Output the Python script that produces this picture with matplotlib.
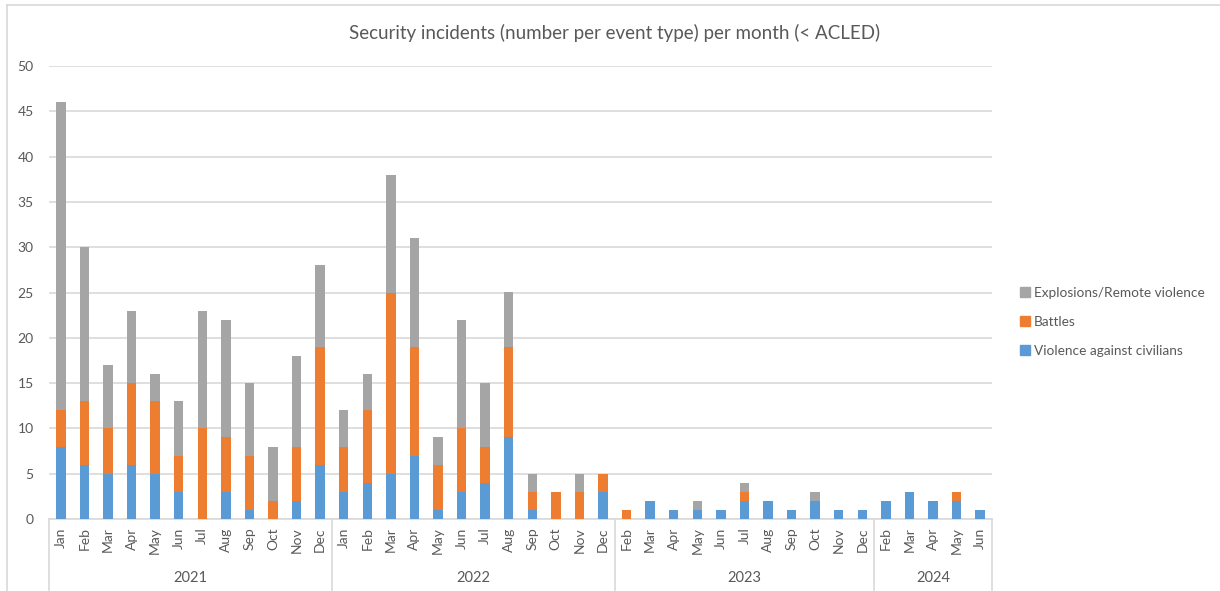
import matplotlib.pyplot as plt
from matplotlib.patches import Patch
import matplotlib.transforms as mtransforms

plt.rcParams['font.family'] = ['Lato', 'DejaVu Sans']

months = ["Jan", "Feb", "Mar", "Apr", "May", "Jun", "Jul", "Aug", "Sep", "Oct", "Nov", "Dec",
          "Jan", "Feb", "Mar", "Apr", "May", "Jun", "Jul", "Aug", "Sep", "Oct", "Nov", "Dec",
          "Feb", "Mar", "Apr", "May", "Jun", "Jul", "Aug", "Sep", "Oct", "Nov", "Dec",
          "Feb", "Mar", "Apr", "May", "Jun"]
years = ["2021", "2022", "2023", "2024"]
months_per_year = [12, 12, 11, 5]

civilians = [8, 6, 5, 6, 5, 3, 0, 3, 1, 0, 2, 6,
             3, 4, 5, 7, 1, 3, 4, 9, 1, 0, 0, 3,
             0, 2, 1, 1, 1, 2, 2, 1, 2, 1, 1,
             2, 3, 2, 2, 1]
battles = [4, 7, 5, 9, 8, 4, 10, 6, 6, 2, 6, 13,
           5, 8, 20, 12, 5, 7, 4, 10, 2, 3, 3, 2,
           1, 0, 0, 0, 0, 1, 0, 0, 0, 0, 0,
           0, 0, 0, 1, 0]
explosions = [34, 17, 7, 8, 3, 6, 13, 13, 8, 6, 10, 9,
              4, 4, 13, 12, 3, 12, 7, 6, 2, 0, 2, 0,
              0, 0, 0, 1, 0, 1, 0, 0, 1, 0, 0,
              0, 0, 0, 0, 0]

blue = "#5b9bd5"
orange = "#ed7d31"
gray = "#a5a5a5"
text_col = "#595959"
line_col = "#d9d9d9"

fig = plt.figure(figsize=(12.2, 5.91), dpi=100)
ax = fig.add_axes([49 / 1220, 1 - 519 / 591, (992 - 49) / 1220, (519 - 66) / 591])

x = list(range(len(months)))
w = 0.4
bottom2 = [a + b for a, b in zip(civilians, battles)]
ax.bar(x, civilians, w, color=blue, zorder=3)
ax.bar(x, battles, w, bottom=civilians, color=orange, zorder=3)
ax.bar(x, explosions, w, bottom=bottom2, color=gray, zorder=3)

ax.set_xlim(-0.5, len(months) - 0.5)
ax.set_ylim(0, 50)
ax.set_yticks(range(0, 51, 5))
ax.yaxis.grid(True, color=line_col, lw=1.2, zorder=0)
ax.tick_params(axis='y', length=0, pad=11, labelsize=10, labelcolor=text_col)
for s in ["top", "right", "left"]:
    ax.spines[s].set_visible(False)
ax.spines["bottom"].set_color(line_col)
ax.spines["bottom"].set_linewidth(1.2)

ax.set_xticks(x)
ax.set_xticklabels(months, rotation=90, fontsize=10, color=text_col)
ax.tick_params(axis='x', length=0, pad=6)

# year grouping lines and labels below the axis
trans = mtransforms.blended_transform_factory(ax.transData, fig.transFigure)
pos = -0.5
bounds = [pos]
for n in months_per_year:
    pos += n
    bounds.append(pos)
for b in bounds:
    ax.plot([b, b], [1 - 519 / 591, 1 - 590 / 591], color=line_col, lw=1.2,
            transform=trans, clip_on=False)
for i, yr in enumerate(years):
    ax.text((bounds[i] + bounds[i + 1]) / 2, 1 - 578 / 591, yr, transform=trans,
            ha='center', va='center', fontsize=10.5, color=text_col)

fig.text(615 / 1220, 1 - 33 / 591, "Security incidents (number per event type) per month (< ACLED)",
         ha='center', va='center', fontsize=13.5, color=text_col)

handles = [Patch(color=gray), Patch(color=orange), Patch(color=blue)]
labels = ["Explosions/Remote violence", "Battles", "Violence against civilians"]
leg = fig.legend(handles, labels, loc='center left', bbox_to_anchor=(1008 / 1220, 1 - 322 / 591),
                 frameon=False, fontsize=9.8, handlelength=0.7, handleheight=0.7,
                 handletextpad=0.3, labelspacing=1.25, labelcolor=text_col)

# chart border
fig.add_artist(plt.Line2D([7 / 1220, 7 / 1220], [0, 1 - 5 / 591], color=line_col, lw=1.2))
fig.add_artist(plt.Line2D([7 / 1220, 1], [1 - 5 / 591, 1 - 5 / 591], color=line_col, lw=1.2))

fig.savefig("out.png", dpi=100)
